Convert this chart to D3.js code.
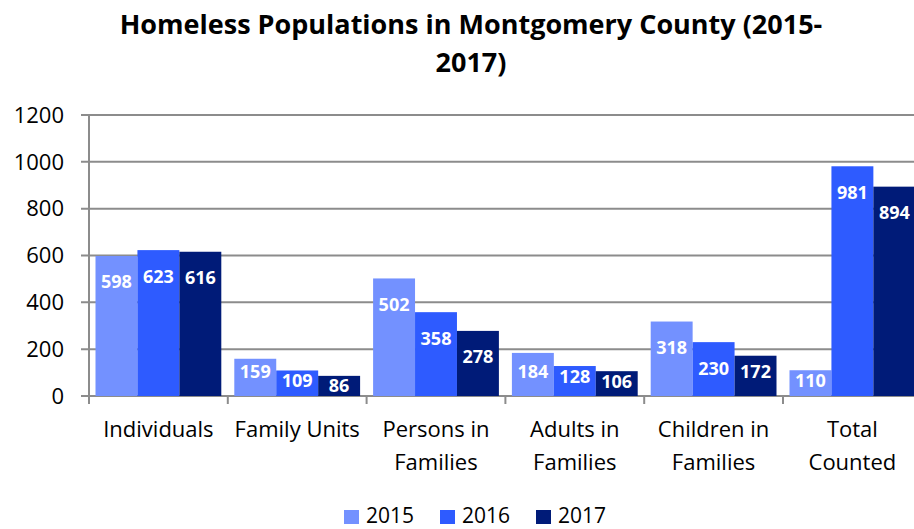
<!DOCTYPE html>
<html>
<head>
<meta charset="utf-8">
<script src="https://cdn.jsdelivr.net/npm/d3@7"></script>
<style>
  html, body { margin: 0; padding: 0; background: #fff; }
  svg { display: block; font-family: "Open Sans", sans-serif; }
</style>
</head>
<body>
<svg id="chart" width="914" height="529"></svg>
<script>
// Homeless populations bar chart

const categories = [
  ["Individuals"],
  ["Family Units"],
  ["Persons in", "Families"],
  ["Adults in", "Families"],
  ["Children in", "Families"],
  ["Total", "Counted"]
];
const years = ["2015", "2016", "2017"];
const values2015 = [598, 159, 502, 184, 318, 110];
const values2016 = [623, 109, 358, 128, 230, 981];
const values2017 = [616, 86, 278, 106, 172, 894];
const yTicks = [0, 200, 400, 600, 800, 1000, 1200];
const colors = ["#7391ff", "#2e5bff", "#001b78"];

const series = [values2015, values2016, values2017];
const width = 914, height = 529;
const margin = {left: 89, top: 115, bottom: 133};
const plotRight = 89 + 6 * 138.8;

const svg = d3.select("#chart");

const x = d3.scaleBand()
    .domain(d3.range(categories.length))
    .range([margin.left, plotRight]);

const xInner = d3.scaleBand()
    .domain(years)
    .range([6.5, x.bandwidth() - 6.5]);

const y = d3.scaleLinear()
    .domain([0, 1200])
    .range([height - margin.bottom, margin.top]);

const color = d3.scaleOrdinal().domain(years).range(colors);

// title
svg.append("text")
    .attr("text-anchor", "middle")
    .style("font-weight", "bold")
    .style("font-size", "27px")
    .selectAll("tspan")
    .data(["Homeless Populations in Montgomery County (2015-", "2017)"])
    .join("tspan")
      .attr("x", 471)
      .attr("y", (d, i) => 34 + i * 38)
      .text(d => d);

// gridlines
svg.append("g")
  .selectAll("line")
  .data(yTicks)
  .join("line")
    .attr("x1", margin.left - 8)
    .attr("x2", width)
    .attr("y1", d => y(d))
    .attr("y2", d => y(d))
    .attr("stroke", "#8c8c8c")
    .attr("stroke-width", 2);

// y axis labels
svg.append("g")
    .style("font-size", "22px")
    .attr("text-anchor", "end")
  .selectAll("text")
  .data(yTicks)
  .join("text")
    .attr("x", 64)
    .attr("y", d => y(d))
    .attr("dy", "0.35em")
    .attr("fill", "#000")
    .text(d => d);

// y axis line
svg.append("line")
    .attr("x1", margin.left).attr("x2", margin.left)
    .attr("y1", y(1200)).attr("y2", y(0) + 8)
    .attr("stroke", "#8c8c8c")
    .attr("stroke-width", 2);

// category tick marks
svg.append("g")
  .selectAll("line")
  .data(d3.range(1, categories.length))
  .join("line")
    .attr("x1", d => x(d)).attr("x2", d => x(d))
    .attr("y1", y(0)).attr("y2", y(0) + 8)
    .attr("stroke", "#8c8c8c")
    .attr("stroke-width", 2);

// bars
const groups = svg.append("g")
  .selectAll("g")
  .data(categories.map((c, i) => years.map((yr, j) => ({cat: i, year: yr, value: series[j][i]}))))
  .join("g")
    .attr("transform", (d, i) => `translate(${x(i)},0)`);

groups.selectAll("rect")
  .data(d => d)
  .join("rect")
    .attr("x", d => xInner(d.year))
    .attr("y", d => y(d.value))
    .attr("width", xInner.bandwidth())
    .attr("height", d => y(0) - y(d.value))
    .attr("fill", d => color(d.year));

// value labels, inside end
groups.selectAll("text")
  .data(d => d)
  .join("text")
    .attr("x", d => xInner(d.year) + xInner.bandwidth() / 2)
    .attr("y", d => {
      const h = y(0) - y(d.value);
      const off = Math.max(10, Math.min(26, h - 24));
      return y(d.value) + off;
    })
    .attr("dy", "0.36em")
    .attr("text-anchor", "middle")
    .attr("fill", "#fff")
    .style("font-weight", "bold")
    .style("font-size", "18px")
    .text(d => d.value);

// category labels
svg.append("g")
    .style("font-size", "22px")
    .attr("text-anchor", "middle")
  .selectAll("text")
  .data(categories)
  .join("text")
    .attr("fill", "#000")
    .each(function(lines, i) {
      d3.select(this).selectAll("tspan")
        .data(lines)
        .join("tspan")
          .attr("x", x(i) + x.bandwidth() / 2)
          .attr("y", (d, k) => 437 + k * 33)
          .text(d => d);
    });

// legend
const legend = svg.append("g")
  .selectAll("g")
  .data(years)
  .join("g")
    .attr("transform", (d, i) => `translate(${344 + i * 96},0)`);

legend.append("rect")
    .attr("y", 510)
    .attr("width", 15)
    .attr("height", 14)
    .attr("fill", d => color(d));

legend.append("text")
    .attr("x", 22)
    .attr("y", 523)
    .style("font-size", "21px")
    .attr("fill", "#000")
    .text(d => d);
</script>
</body>
</html>
